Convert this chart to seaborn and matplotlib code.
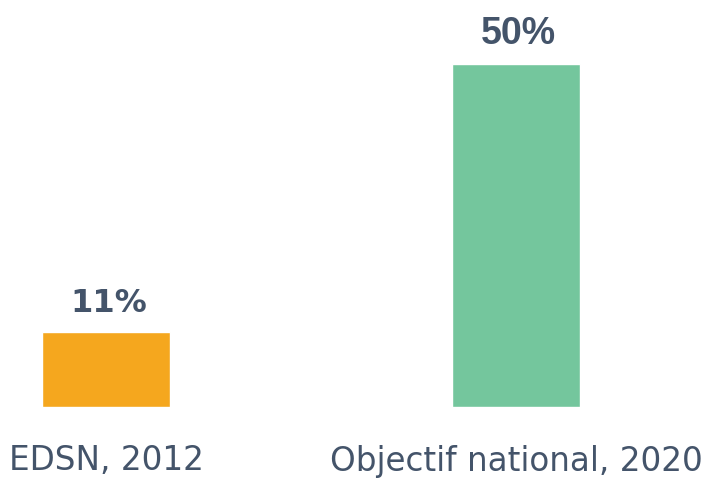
import pandas as pd
import matplotlib
matplotlib.use("Agg")
import matplotlib.pyplot as plt
import seaborn as sns

# Data
categories = ["EDSN, 2012", "Objectif national, 2020"]
values = [11, 50]
bar_colors = ["#F5A71E", "#74C69D"]
value_labels = ["11%", "50%"]

text_color = "#44546A"

df = pd.DataFrame({"Source": categories, "Pct": values})

sns.set_style("white")
plt.rcParams["font.family"] = ["DejaVu Sans"]

fig = plt.figure(figsize=(7.24, 4.82), dpi=100)
ax = fig.add_axes([0, 75 / 482, 1, 343 / 482])

sns.barplot(data=df, x="Source", y="Pct", hue="Source",
            palette=bar_colors, width=0.312, legend=False, ax=ax,
            saturation=1)

ax.set_ylim(0, 50)
ax.set_xlim(-106 / 410, 618 / 410)

# value labels above bars
label_fonts = ["DejaVu Sans", "Liberation Sans"]
label_sizes = [23, 27]
for i, (v, lab) in enumerate(zip(values, value_labels)):
    ax.annotate(lab, xy=(i, v), xytext=(2, 14.4), textcoords="offset points",
                ha="center", va="baseline", fontsize=label_sizes[i],
                fontweight="bold", color=text_color, family=label_fonts[i],
                annotation_clip=False)

sns.despine(left=True, bottom=True)
ax.set_yticks([])
ax.set_xlabel("")
ax.set_ylabel("")
ax.set_xticks(range(len(categories)))
ax.set_xticklabels(categories)
ax.tick_params(axis="x", length=0, pad=27, labelsize=23.5, labelcolor=text_color)

fig.savefig("out.png", dpi=100)
